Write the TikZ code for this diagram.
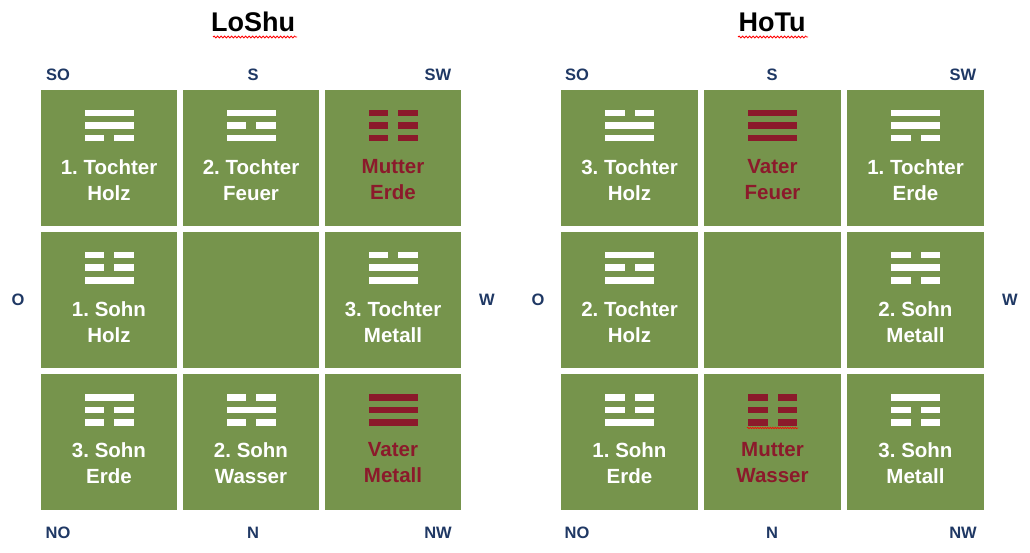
\documentclass[tikz,border=0pt]{standalone}
\usepackage{fontspec}
\setmainfont{Liberation Sans}[BoldFont={Liberation Sans Bold}]
\frenchspacing
\usetikzlibrary{decorations.pathmorphing}
\definecolor{grn}{HTML}{76944C}
\definecolor{rd}{HTML}{8B1A2B}
\definecolor{navy}{HTML}{1F3864}
\tikzset{x=1pt,y=-1pt,
 cell/.style={fill=grn,draw=none,minimum width=136pt,minimum height=136pt,inner sep=0},
 lbl/.style={font=\fontsize{20.5}{26}\selectfont\bfseries,align=center,text=white},
 dir/.style={font=\fontsize{16.5}{16.5}\selectfont\bfseries,text=navy},
 ttl/.style={font=\fontsize{27}{27}\selectfont\bfseries},
 wavy/.style={red,line width=0.8pt,decorate,decoration={snake,amplitude=1pt,segment length=3.5pt}}}
\newcommand{\tbar}[4]{%
 \if#3Y\fill[#4] (#1-24.5,#2) rectangle ++(49,6.5);%
 \else\fill[#4] (#1-24.5,#2) rectangle ++(19.5,6.5); \fill[#4] (#1+5,#2) rectangle ++(19.5,6.5);\fi}
\newcommand{\trigram}[6]{\tbar{#1}{#2}{#3}{#6}\tbar{#1}{#2+12.5}{#4}{#6}\tbar{#1}{#2+25}{#5}{#6}}
\begin{document}
\begin{tikzpicture}
\useasboundingbox (0,0) rectangle (1030,553);
\node[ttl] (t1) at (253,22) {LoShu};
\node[ttl] (t2) at (772,22) {HoTu};
\draw[wavy] (213,37) -- (297,37);
\draw[wavy] (738,37) -- (808,37);
\foreach \c/\x in {0/109,1/251,2/393}{\foreach \r/\y in {0/158,1/300,2/442}{
 \node[cell] (L\r\c) at (\x,\y) {};}}
\foreach \c/\x in {0/629.5,1/772.5,2/915.5}{\foreach \r/\y in {0/158,1/300,2/442}{
 \node[cell,minimum width=137pt] (H\r\c) at (\x,\y) {};}}
\trigram{109}{110}{Y}{Y}{N}{white}
\trigram{251}{110}{Y}{N}{Y}{white}
\trigram{393}{110}{N}{N}{N}{rd}
\trigram{109}{252}{N}{N}{Y}{white}
\trigram{393}{252}{N}{Y}{Y}{white}
\trigram{109}{394}{Y}{N}{N}{white}
\trigram{251}{394}{N}{Y}{N}{white}
\trigram{393}{394}{Y}{Y}{Y}{rd}
\node[lbl] at (109,180) {1. Tochter\\Holz};
\node[lbl] at (251,180) {2. Tochter\\Feuer};
\node[lbl,text=rd] at (393,180) {Mutter\\Erde};
\node[lbl] at (109,322) {1. Sohn\\Holz};
\node[lbl] at (393,322) {3. Tochter\\Metall};
\node[lbl] at (109,463) {3. Sohn\\Erde};
\node[lbl] at (251,463) {2. Sohn\\Wasser};
\node[lbl,text=rd] at (393,463) {Vater\\Metall};
\trigram{629.5}{110}{N}{Y}{Y}{white}
\trigram{772.5}{110}{Y}{Y}{Y}{rd}
\trigram{915.5}{110}{Y}{Y}{N}{white}
\trigram{629.5}{252}{Y}{N}{Y}{white}
\trigram{915.5}{252}{N}{Y}{N}{white}
\trigram{629.5}{394}{N}{N}{Y}{white}
\trigram{772.5}{394}{N}{N}{N}{rd}
\trigram{915.5}{394}{Y}{N}{N}{white}
\draw[wavy,line width=0.6pt,decoration={amplitude=0.7pt,segment length=2.5pt}] (747,428) -- (798,428);
\node[lbl] at (629.5,180) {3. Tochter\\Holz};
\node[lbl,text=rd] at (772.5,180) {Vater\\Feuer};
\node[lbl] at (915.5,180) {1. Tochter\\Erde};
\node[lbl] at (629.5,322) {2. Tochter\\Holz};
\node[lbl] at (915.5,322) {2. Sohn\\Metall};
\node[lbl] at (629.5,463) {1. Sohn\\Erde};
\node[lbl,text=rd] at (772.5,463) {Mutter\\Wasser};
\node[lbl] at (915.5,463) {3. Sohn\\Metall};
\node[dir] (a1) at (58,75) {SO}; \node[dir] (a2) at (253,75) {S}; \node[dir] (a3) at (438,75) {SW};
\node[dir] (a4) at (18,300) {O}; \node[dir] (a5) at (487,300) {W};
\node[dir] (a6) at (58,533) {NO}; \node[dir] (a7) at (253,533) {N}; \node[dir] (a8) at (438,533) {NW};
\node[dir] (b1) at (577,75) {SO}; \node[dir] (b2) at (772,75) {S}; \node[dir] (b3) at (963,75) {SW};
\node[dir] (b4) at (538,300) {O}; \node[dir] (b5) at (1010,300) {W};
\node[dir] (b6) at (577,533) {NO}; \node[dir] (b7) at (772,533) {N}; \node[dir] (b8) at (963,533) {NW};
\end{tikzpicture}
\end{document}
